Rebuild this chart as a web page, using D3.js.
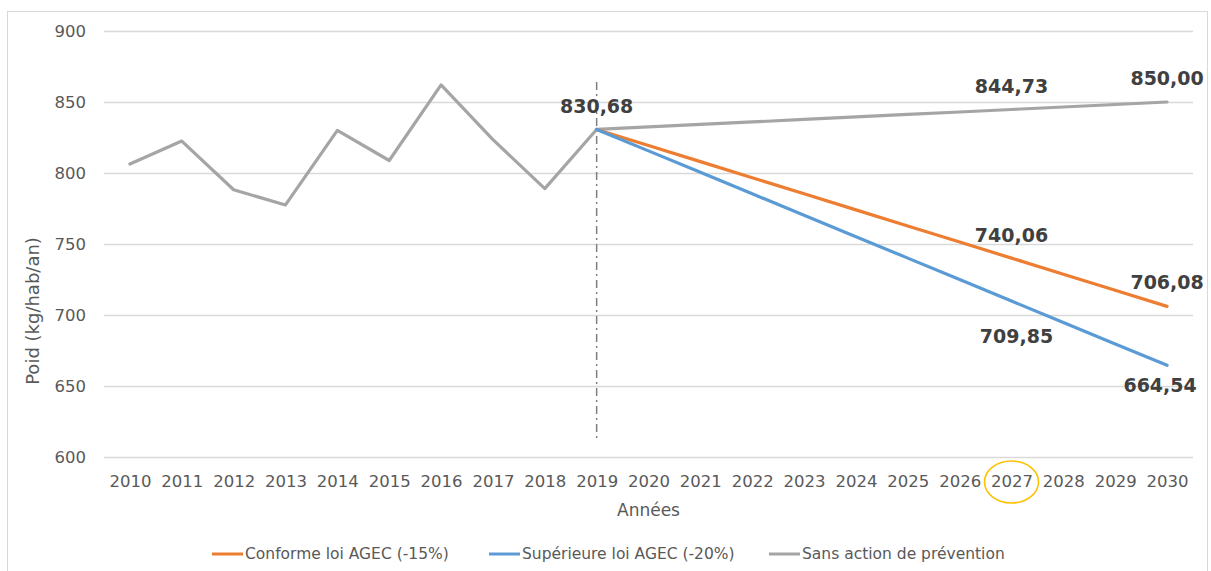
<!DOCTYPE html>
<html>
<head>
<meta charset="utf-8">
<script src="https://cdn.jsdelivr.net/npm/d3@7"></script>
<style>
  html, body { margin: 0; padding: 0; background: #fff; }
  svg { display: block; font-family: "DejaVu Sans", sans-serif; }
</style>
</head>
<body>
<svg id="chart" width="1211" height="571"></svg>
<script>
// ---- Data ----
const years = [2010,2011,2012,2013,2014,2015,2016,2017,2018,2019,2020,2021,2022,2023,2024,2025,2026,2027,2028,2029,2030];
const yTicks = [600,650,700,750,800,850,900];

const seriesNames = ["Conforme loi AGEC (-15%)", "Supérieure loi AGEC (-20%)", "Sans action de prévention"];
const seriesColors = ["#ED7D31", "#5B9BD5", "#A5A5A5"];

// Conforme loi AGEC (-15%) : 2019 -> 2030
const conformeYears = [2019,2020,2021,2022,2023,2024,2025,2026,2027,2028,2029,2030];
const conformeValues = [830.68,819.35,808.03,796.70,785.37,774.05,762.72,751.39,740.06,728.74,717.41,706.08];

// Supérieure loi AGEC (-20%) : 2019 -> 2030
const superieureYears = [2019,2020,2021,2022,2023,2024,2025,2026,2027,2028,2029,2030];
const superieureValues = [830.68,815.58,800.47,785.37,770.27,755.16,740.06,724.95,709.85,694.75,679.64,664.54];

// Sans action de prévention : 2010 -> 2030
const sansActionValues = [806.3,822.5,788.2,777.5,830.0,808.8,862.0,823.5,789.0,830.68,832.44,834.19,835.95,837.71,839.46,841.22,842.97,844.73,846.49,848.24,850.00];

// Data labels: series index, year, text
const labels = [
  {s: 2, year: 2019, text: "830,68", dx: 0, dy: -16},
  {s: 2, year: 2027, text: "844,73", dx: 0, dy: -16},
  {s: 2, year: 2030, text: "850,00", dx: 0, dy: -17},
  {s: 0, year: 2027, text: "740,06", dx: 0, dy: -16},
  {s: 0, year: 2030, text: "706,08", dx: 0, dy: -17},
  {s: 1, year: 2027, text: "709,85", dx: 5, dy: 42},
  {s: 1, year: 2030, text: "664,54", dx: -7, dy: 27}
];

const markerYear = 2019;
const markerRange = [612, 864];
const highlightYear = 2027;

// ---- Chart ----
const svg = d3.select("#chart");
const plot = {left: 104, right: 1193, top: 31, bottom: 457};

const x = d3.scalePoint().domain(years).range([plot.left, plot.right]).padding(0.5);
const y = d3.scaleLinear().domain([600, 900]).range([plot.bottom, plot.top]);

// outer border
svg.append("rect")
  .attr("x", 7.5).attr("y", 11.5).attr("width", 1200).attr("height", 580)
  .attr("fill", "#fff").attr("stroke", "#D9D9D9").attr("stroke-width", 1);

// gridlines
svg.append("g").selectAll("line").data(yTicks).join("line")
  .attr("x1", plot.left).attr("x2", plot.right)
  .attr("y1", d => Math.round(y(d)) + 0.5).attr("y2", d => Math.round(y(d)) + 0.5)
  .attr("stroke", "#D9D9D9").attr("stroke-width", 1.3);

// y axis labels
const yAxis = d3.axisLeft(y).tickValues(yTicks).tickSize(0).tickPadding(0).tickFormat(d3.format("d"));
const gy = svg.append("g").attr("transform", "translate(86,0)").call(yAxis);
gy.select(".domain").remove();
gy.selectAll("text").attr("fill", "#595959").style("font-size", "16.5px")
  .style("font-family", "'DejaVu Sans', sans-serif");

// x axis labels
const xAxis = d3.axisBottom(x).tickSize(0).tickPadding(0).tickFormat(d3.format("d"));
const gx = svg.append("g").attr("transform", `translate(0,${plot.bottom + 18})`).call(xAxis);
gx.select(".domain").remove();
gx.selectAll("text").attr("fill", "#595959").style("font-size", "16.5px")
  .style("font-family", "'DejaVu Sans', sans-serif");

// highlight ellipse around 2027
svg.append("ellipse")
  .attr("cx", x(highlightYear)).attr("cy", plot.bottom + 25)
  .attr("rx", 27).attr("ry", 21)
  .attr("fill", "none").attr("stroke", "#FFC000").attr("stroke-width", 1.6);

// axis titles
svg.append("text")
  .attr("transform", `translate(39,311) rotate(-90)`)
  .attr("text-anchor", "middle")
  .attr("fill", "#595959").style("font-size", "18px")
  .text("Poid (kg/hab/an)");

svg.append("text")
  .attr("x", (plot.left + plot.right) / 2).attr("y", 516)
  .attr("text-anchor", "middle")
  .attr("fill", "#595959").style("font-size", "17px")
  .text("Années");

// vertical dash-dot marker
svg.append("line")
  .attr("x1", x(markerYear)).attr("x2", x(markerYear))
  .attr("y1", y(markerRange[1])).attr("y2", y(markerRange[0]))
  .attr("stroke", "#7F7F7F").attr("stroke-width", 1.5)
  .attr("stroke-dasharray", "8,4,2,4");

// lines
const line = d3.line().x(d => x(d[0])).y(d => y(d[1]));
const seriesData = [
  d3.zip(conformeYears, conformeValues),
  d3.zip(superieureYears, superieureValues),
  d3.zip(years, sansActionValues)
];
[2, 0, 1].forEach(i => {
  svg.append("path")
    .datum(seriesData[i])
    .attr("d", line)
    .attr("fill", "none")
    .attr("stroke", seriesColors[i])
    .attr("stroke-width", 3.2)
    .attr("stroke-linejoin", "round")
    .attr("stroke-linecap", "round");
});

// data labels
svg.append("g").selectAll("text").data(labels).join("text")
  .attr("x", d => x(d.year) + d.dx)
  .attr("y", d => {
    const pt = seriesData[d.s].find(p => p[0] === d.year);
    return y(pt[1]) + d.dy;
  })
  .attr("text-anchor", "middle")
  .attr("fill", "#404040")
  .style("font-size", "19px").style("font-weight", "bold")
  .text(d => d.text);

// legend
const legendItems = [
  {i: 0, x: 212},
  {i: 1, x: 489},
  {i: 2, x: 769}
];
const lg = svg.append("g").attr("transform", "translate(0,554)");
legendItems.forEach(it => {
  lg.append("line")
    .attr("x1", it.x).attr("x2", it.x + 31).attr("y1", 0).attr("y2", 0)
    .attr("stroke", seriesColors[it.i]).attr("stroke-width", 3);
  lg.append("text")
    .attr("x", it.x + 33).attr("y", 5)
    .attr("fill", "#595959").style("font-size", "15.5px")
    .text(seriesNames[it.i]);
});
</script>
</body>
</html>
